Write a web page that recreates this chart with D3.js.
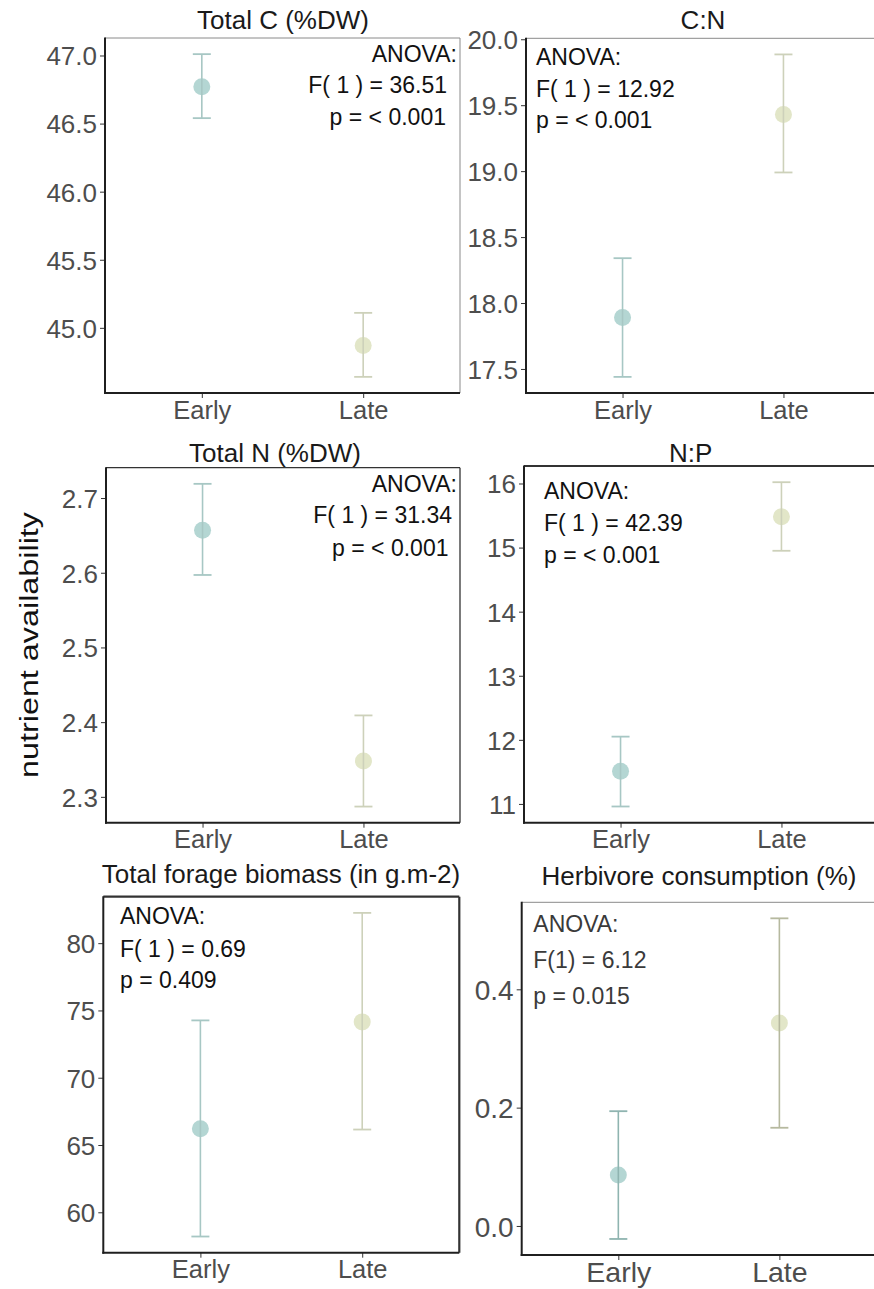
<!DOCTYPE html>
<html>
<head>
<meta charset="utf-8">
<script src="https://cdn.jsdelivr.net/npm/d3@7"></script>
<style>
  html, body { margin: 0; padding: 0; background: #fff; }
  svg { display: block; }
  text { font-family: "Liberation Sans", Arial, Helvetica, sans-serif; }
</style>
</head>
<body>
<svg id="chart" width="874" height="1289"></svg>
<script>
// Groups on the x axis
const groups = ["Early", "Late"];

// Rows: [mean, lower, upper] for Early and Late
const totalC   = [[46.77, 46.54, 47.01], [44.87, 44.64, 45.11]];
const ratioCN  = [[17.89, 17.44, 18.34], [19.43, 18.99, 19.885]];
const totalN   = [[2.657, 2.597, 2.719], [2.348, 2.287, 2.409]];
const ratioNP  = [[11.51, 10.96, 12.05], [15.48, 14.95, 16.02]];
const biomass  = [[66.2, 58.2, 74.26], [74.15, 66.15, 82.25]];
const herbCons = [[0.086, -0.022, 0.194], [0.343, 0.166, 0.52]];

// Tick values
const ticksTotalC   = [45.0, 45.5, 46.0, 46.5, 47.0];
const ticksCN       = [17.5, 18.0, 18.5, 19.0, 19.5, 20.0];
const ticksTotalN   = [2.3, 2.4, 2.5, 2.6, 2.7];
const ticksNP       = [11, 12, 13, 14, 15, 16];
const ticksBiomass  = [60, 65, 70, 75, 80];
const ticksHerb     = [0.0, 0.2, 0.4];

// Panel titles
const titles = ["Total C (%DW)", "C:N", "Total N (%DW)", "N:P",
                "Total forage biomass (in g.m-2)", "Herbivore consumption (%)"];

// ANOVA annotations
const anovaTotalC  = ["ANOVA:", "F( 1 ) = 36.51", "p = < 0.001"];
const anovaCN      = ["ANOVA:", "F( 1 ) = 12.92", "p = < 0.001"];
const anovaTotalN  = ["ANOVA:", "F( 1 ) = 31.34", "p = < 0.001"];
const anovaNP      = ["ANOVA:", "F( 1 ) = 42.39", "p = < 0.001"];
const anovaBiomass = ["ANOVA:", "F( 1 ) = 0.69", "p = 0.409"];
const anovaHerb    = ["ANOVA:", "F(1) = 6.12", "p = 0.015"];

const yAxisLabel = "nutrient availability";

// Styling
const fillColors = ["#b4d6d3", "#e2e6c8"];
const barColors  = ["#a7c7c4", "#cdd1ba"];
const barColorsDark = ["#8fb4b0", "#b6b99f"];
const THICK = { stroke: "#1f1f1f", width: 2 };
const THINGREY = { stroke: "#8a8a8a", width: 1 };
const THINDARK = { stroke: "#333333", width: 1.3 };
const THICKDARK = { stroke: "#333333", width: 2.2 };

// Layout of each panel
const panels = [
  { title: titles[0], data: totalC, ticks: ticksTotalC, fmt: ".1f", anova: anovaTotalC,
    box: [105, 460, 38, 393], titleX: 283, titleY: 29,
    anovaAnchor: "end", anovaX: [457, 447, 446], anovaY: [61.7, 93.3, 125],
    borders: { top: THINGREY, right: THINGREY, left: THICK, bottom: THICK },
    tickFont: 26, xFont: 25.5, xLabelY: 419, anovaFont: 23, bars: barColors, anovaColor: "#111" },
  { title: titles[1], data: ratioCN, ticks: ticksCN, fmt: ".1f", anova: anovaCN,
    box: [526, 880, 38.3, 393], titleX: 703, titleY: 28.5,
    anovaAnchor: "start", anovaX: [536, 536, 536], anovaY: [65, 96.7, 128.3],
    borders: { top: THINGREY, right: THINGREY, left: THICK, bottom: THICK },
    tickFont: 26, xFont: 25.5, xLabelY: 419, anovaFont: 23, bars: barColors, anovaColor: "#111" },
  { title: titles[2], data: totalN, ticks: ticksTotalN, fmt: ".1f", anova: anovaTotalN,
    box: [106, 460, 467.7, 822.7], titleX: 275, titleY: 461.7,
    anovaAnchor: "end", anovaX: [457, 452, 448.5], anovaY: [491.7, 523.3, 556],
    borders: { top: THINDARK, right: THINDARK, left: THICK, bottom: THICK },
    tickFont: 26, xFont: 25.5, xLabelY: 848.3, anovaFont: 23, bars: barColors, anovaColor: "#111" },
  { title: titles[3], data: ratioNP, ticks: ticksNP, fmt: "d", anova: anovaNP,
    box: [524, 878, 466, 822.7], titleX: 690.7, titleY: 461.7,
    anovaAnchor: "start", anovaX: [544, 544, 544], anovaY: [499.3, 531, 563.3],
    borders: { top: THICKDARK, right: THICKDARK, left: THICK, bottom: THICK },
    tickFont: 26, xFont: 25.5, xLabelY: 848.3, anovaFont: 23, bars: barColors, anovaColor: "#111" },
  { title: titles[4], data: biomass, ticks: ticksBiomass, fmt: "d", anova: anovaBiomass,
    box: [103.3, 459.3, 896.7, 1252.7], titleX: 281, titleY: 883.3,
    anovaAnchor: "start", anovaX: [120, 120, 120], anovaY: [924, 956.7, 988.3],
    borders: { top: THICKDARK, right: THICKDARK, left: THICK, bottom: THICK },
    tickFont: 26, xFont: 25.5, xLabelY: 1278.3, anovaFont: 23, bars: barColors, anovaColor: "#111" },
  { title: titles[5], data: herbCons, ticks: ticksHerb, fmt: ".1f", anova: anovaHerb,
    box: [521.7, 876, 902.3, 1255], titleX: 699, titleY: 885,
    anovaAnchor: "start", anovaX: [533.3, 533.3, 533.3], anovaY: [931.7, 968.3, 1004],
    borders: { top: THINGREY, right: THINGREY, left: THICK, bottom: THICK },
    tickFont: 28, xFont: 28.5, xLabelY: 1282, anovaFont: 23, bars: barColorsDark, anovaColor: "#3a3a3a" }
];

const svg = d3.select("#chart");

panels.forEach(p => {
  const [x0, x1, y0, y1] = p.box;
  const g = svg.append("g");

  // Scales: discrete groups and a continuous y range expanded by 5%
  const x = d3.scalePoint().domain(groups).range([x0, x1]).padding(0.6);
  const lo = d3.min(p.data, d => d[1]);
  const hi = d3.max(p.data, d => d[2]);
  const pad = (hi - lo) * 0.05;
  const y = d3.scaleLinear().domain([lo - pad, hi + pad]).range([y1, y0]);

  // Y axis
  const yAxis = g.append("g")
    .attr("transform", `translate(${x0},0)`)
    .call(d3.axisLeft(y).tickValues(p.ticks).tickFormat(d3.format(p.fmt)).tickSize(5).tickPadding(3));
  yAxis.select(".domain").remove();
  yAxis.selectAll(".tick line").attr("stroke", "#333").attr("stroke-width", 1);
  yAxis.selectAll(".tick text")
    .attr("fill", "#4d4d4d").attr("font-size", p.tickFont)
    .attr("font-family", "'Liberation Sans', Arial, sans-serif").attr("dy", "0.36em");

  // X axis
  const xAxis = g.append("g")
    .attr("transform", `translate(0,${y1})`)
    .call(d3.axisBottom(x).tickSize(5).tickPadding(3));
  xAxis.select(".domain").remove();
  xAxis.selectAll(".tick line").attr("stroke", "#333").attr("stroke-width", 1);
  xAxis.selectAll(".tick text")
    .attr("fill", "#4d4d4d").attr("font-size", p.xFont)
    .attr("font-family", "'Liberation Sans', Arial, sans-serif")
    .attr("y", p.xLabelY - y1).attr("dy", 0);

  // Points and error bars
  const marks = g.append("g").selectAll("g").data(p.data).join("g");
  marks.append("circle")
    .attr("cx", (d, i) => x(groups[i]))
    .attr("cy", d => y(d[0]))
    .attr("r", 8.5)
    .attr("fill", (d, i) => fillColors[i]);
  marks.append("line")
    .attr("x1", (d, i) => x(groups[i])).attr("x2", (d, i) => x(groups[i]))
    .attr("y1", d => y(d[1])).attr("y2", d => y(d[2]))
    .attr("stroke", (d, i) => p.bars[i]).attr("stroke-width", 1.6);
  [1, 2].forEach(k => {
    marks.append("line")
      .attr("x1", (d, i) => x(groups[i]) - 9).attr("x2", (d, i) => x(groups[i]) + 9)
      .attr("y1", d => y(d[k])).attr("y2", d => y(d[k]))
      .attr("stroke", (d, i) => p.bars[i]).attr("stroke-width", 1.8);
  });

  // Panel frame
  const b = p.borders;
  const edge = (xa, ya, xb, yb, s) => g.append("line")
    .attr("x1", xa).attr("y1", ya).attr("x2", xb).attr("y2", yb)
    .attr("stroke", s.stroke).attr("stroke-width", s.width);
  edge(x0, y0, x1, y0, b.top);
  edge(x1, y0, x1, y1, b.right);
  edge(x0, y0 - 0.5, x0, y1 + 1, b.left);
  edge(x0 - 1, y1, x1, y1, b.bottom);

  // Title
  g.append("text")
    .attr("x", p.titleX).attr("y", p.titleY)
    .attr("text-anchor", "middle")
    .attr("font-size", 26).attr("fill", "#1a1a1a")
    .text(p.title);

  // ANOVA annotation
  g.append("g").selectAll("text").data(p.anova).join("text")
    .attr("x", (d, i) => p.anovaX[i]).attr("y", (d, i) => p.anovaY[i])
    .attr("text-anchor", p.anovaAnchor)
    .attr("font-size", p.anovaFont).attr("fill", p.anovaColor)
    .text(d => d);
});

// Shared y-axis label
svg.append("text")
  .attr("transform", "translate(38,645) rotate(-90)")
  .attr("text-anchor", "middle")
  .attr("font-size", 26)
  .attr("fill", "#111")
  .attr("textLength", 266)
  .attr("lengthAdjust", "spacingAndGlyphs")
  .text(yAxisLabel);
</script>
</body>
</html>
